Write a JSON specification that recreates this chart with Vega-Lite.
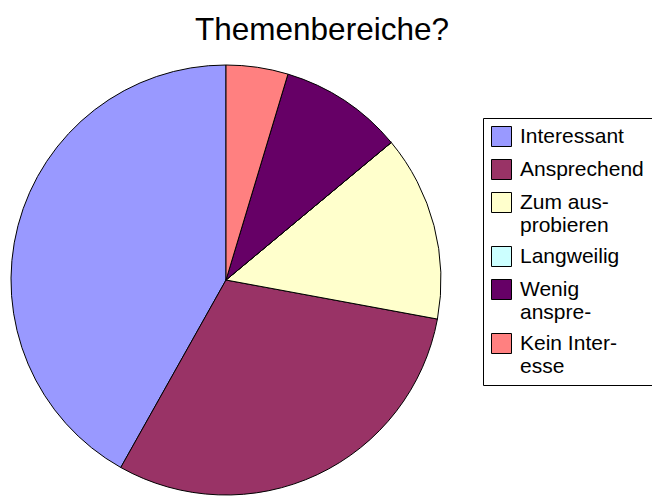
{
  "$schema": "https://vega.github.io/schema/vega-lite/v6.json",
  "autosize": {"type": "none"},
  "width": 430,
  "height": 430,
  "padding": {"left": 11, "top": 65, "right": 211, "bottom": 6},
  "background": "white",
  "title": {
    "text": "Themenbereiche?",
    "font": "Liberation Sans",
    "fontSize": 31.5,
    "fontWeight": "normal",
    "color": "black",
    "anchor": "middle",
    "dx": 96,
    "offset": 17
  },
  "data": {
    "values": [
      {"kategorie": "Interessant", "anzahl": 18, "idx": 1},
      {"kategorie": "Ansprechend", "anzahl": 13, "idx": 2},
      {"kategorie": "Zum ausprobieren", "anzahl": 6, "idx": 3},
      {"kategorie": "Langweilig", "anzahl": 0, "idx": 4},
      {"kategorie": "Wenig ansprechend", "anzahl": 4, "idx": 5},
      {"kategorie": "Kein Interesse", "anzahl": 2, "idx": 6}
    ]
  },
  "mark": {"type": "arc", "stroke": "black", "strokeWidth": 1, "outerRadius": 215},
  "encoding": {
    "theta": {"field": "anzahl", "type": "quantitative", "stack": true},
    "order": {"field": "idx", "type": "quantitative", "sort": "descending"},
    "color": {
      "field": "kategorie",
      "type": "nominal",
      "sort": ["Interessant", "Ansprechend", "Zum ausprobieren", "Langweilig", "Wenig ansprechend", "Kein Interesse"],
      "scale": {
        "domain": ["Interessant", "Ansprechend", "Zum ausprobieren", "Langweilig", "Wenig ansprechend", "Kein Interesse"],
        "range": ["#9999FF", "#993366", "#FFFFCC", "#CCFFFF", "#660066", "#FF8080"]
      },
      "legend": {
        "title": null,
        "orient": "none",
        "legendX": 472,
        "legendY": 53,
        "strokeColor": "black",
        "fillColor": "white",
        "padding": 8,
        "symbolType": "square",
        "symbolSize": 400,
        "symbolStrokeColor": "black",
        "symbolStrokeWidth": 1,
        "labelFont": "Liberation Sans",
        "labelFontSize": 21,
        "labelColor": "black",
        "labelLimit": 300,
        "labelOffset": 8,
        "rowPadding": 8,
        "labelExpr": "datum.label == 'Zum ausprobieren' ? ['Zum aus-', 'probieren'] : datum.label == 'Wenig ansprechend' ? ['Wenig', 'anspre-'] : datum.label == 'Kein Interesse' ? ['Kein Inter-', 'esse'] : datum.label"
      }
    }
  },
  "config": {
    "view": {"stroke": null},
    "style": {"guide-label": {"lineHeight": 23}}
  }
}
